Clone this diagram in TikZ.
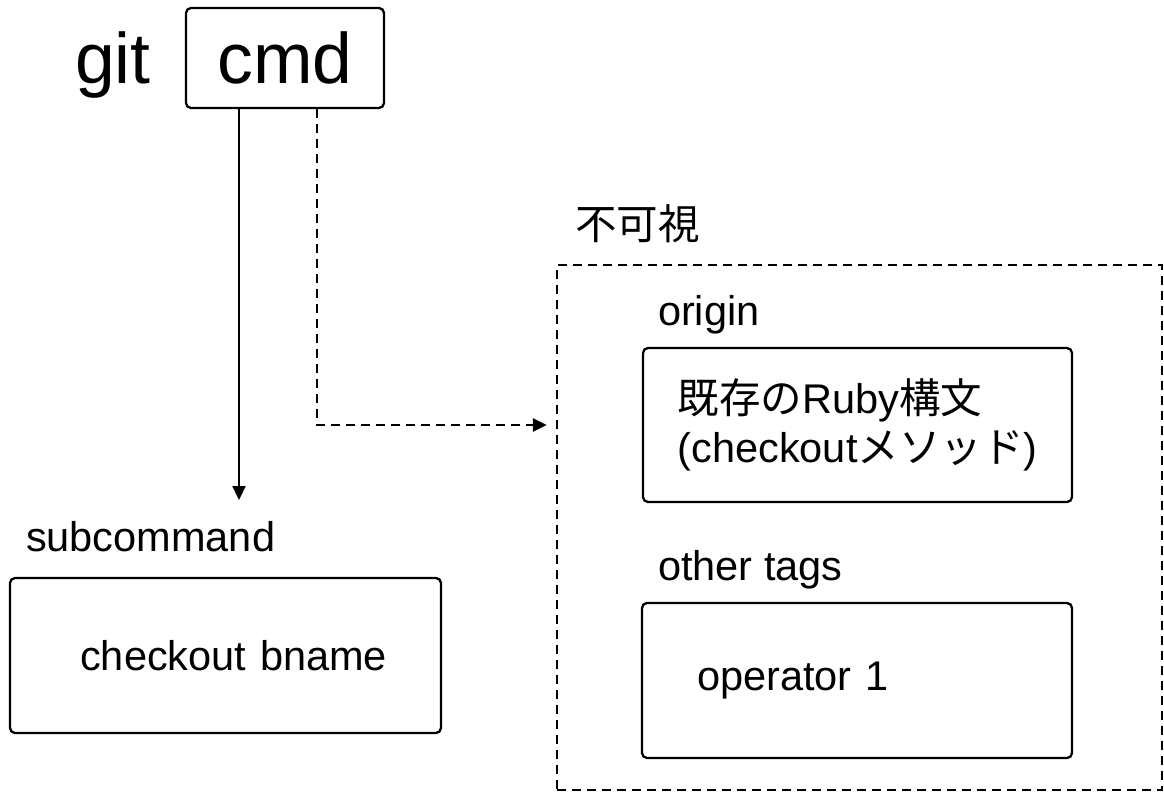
\documentclass[tikz,border=0pt]{standalone}
\usepackage{fontspec}
\setmainfont{Liberation Sans}
\newfontfamily\cjk{Noto Sans CJK JP}
\usetikzlibrary{arrows.meta,positioning}

\begin{document}
\begin{tikzpicture}[x=1pt, y=-1pt, line width=2.3pt, >={Triangle[length=14pt,width=13pt]},
  every node/.style={font=\fontsize{41.5}{49}\selectfont},
  box/.style={draw, rounded corners=5pt},
  lbl/.style={inner sep=0pt, text depth=0pt},
  dashline/.style={dash pattern=on 9pt off 6pt}]
\useasboundingbox (0,0) rectangle (1164,794);

\node[box, minimum width=198pt, minimum height=100pt, font=\fontsize{71.5}{80}\selectfont] (cmd) at (285,58) {cmd};
\node[lbl, font=\fontsize{71.5}{80}\selectfont, base left=33pt of cmd] (git) {git};

\node[box, minimum width=431pt, minimum height=155pt, inner xsep=54pt, text width=323pt, align=right] (sub) at (225.5,655.5) {checkout bname};
\node[lbl, above right=24pt and 16pt of sub.north west] (sublbl) {subcommand};

\node[draw, dashline, minimum width=605pt, minimum height=525pt, inner sep=0pt] (hidden) at (859.5,527.5) {};
\node[lbl, font=\cjk\fontsize{41.5}{49}\selectfont, above right=23pt and 18pt of hidden.north west] (hidlbl) {不可視};

\node[box, minimum width=429pt, minimum height=154pt, align=left] (orig) at (857.5,425) {{\cjk 既存の}Ruby{\cjk 構文}\\(checkout{\cjk メソッド})};
\node[lbl, above right=20pt and 15pt of orig.north west] (origlbl) {origin};

\node[box, minimum width=430pt, minimum height=155pt, inner xsep=55pt, text width=320pt, align=left] (other) at (857,680.5) {operator 1};
\node[lbl, above right=20pt and 16pt of other.north west] (otherlbl) {other tags};

\coordinate (subin) at (239,500);
\coordinate (bend) at (317,425);
\coordinate[left=9pt of hidden.west] (hidin);
\draw[->] (cmd.south -| subin) -- (subin);
\draw[->, dashline] (cmd.south -| bend) -- (bend) -- (hidin |- bend);
\end{tikzpicture}
\end{document}
